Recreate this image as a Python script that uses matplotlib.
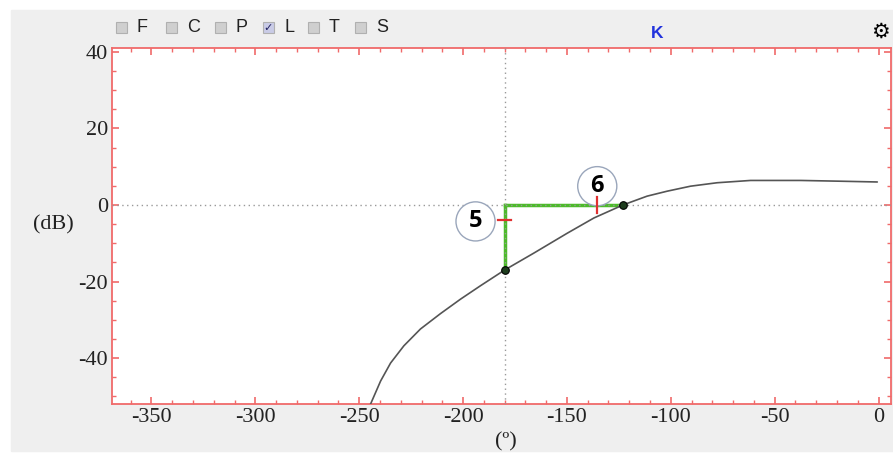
import matplotlib.pyplot as plt
from matplotlib.patches import Rectangle

plt.rcParams['axes.unicode_minus'] = False

# Nichols curve of L(jw)
curve_phase = [-244.6, -239.7, -234.9, -228.5, -220.5, -210.9, -201.2, -191.6,
               -180.0, -166.0, -149.9, -137.0, -123.0, -111.4, -101.7, -90.5,
               -77.7, -61.6, -37.5, -18.3, -0.6]
curve_mag = [-52.1, -46.0, -41.3, -36.8, -32.4, -28.4, -24.6, -21.1,
             -17.0, -12.6, -7.4, -3.4, 0.0, 2.3, 3.6, 4.9,
             5.8, 6.4, 6.4, 6.2, 6.0]

# marked points and margin construction
pts_phase = [-180, -123]
pts_mag = [-17, 0]
ref_phase = -180
ref_mag = 0
tick5 = (-180, -4.0)
tick6 = (-135.5, 0)
label5 = (-194, -4.3)
label6 = (-135.4, 4.9)

xticks = [-350, -300, -250, -200, -150, -100, -50, 0]
yticks = [40, 20, 0, -20, -40]
boxes = ['F', 'C', 'P', 'L', 'T', 'S']
checked = 'L'

W, H = 893, 453
fig = plt.figure(figsize=(W / 100, H / 100), dpi=100, facecolor='white')
fig.patches.append(Rectangle((11 / W, 2 / H), (W - 11) / W, (H - 12) / H,
                             transform=fig.transFigure, color='#efefef', zorder=-10))

ax = fig.add_axes([112 / W, 1 - 404 / H, (891 - 112) / W, (404 - 48) / H])
ax.set_facecolor('white')
ax.set_xlim(-369, 6)
ax.set_ylim(-52, 41)

red = '#f06a6a'
for s in ax.spines.values():
    s.set_color(red)
    s.set_linewidth(1.3)
ax.set_xticks(xticks)
ax.set_yticks(yticks)
ax.set_xticks(range(-360, 1, 10), minor=True)
ax.set_yticks(range(-50, 41, 5), minor=True)
ax.tick_params(which='both', direction='in', color=red, top=True, right=True)
ax.tick_params(which='major', length=5, width=1.2)
ax.tick_params(which='minor', length=3, width=1)
ax.tick_params(labelsize=16, labelcolor='#222222', pad=3)
for lab in ax.get_xticklabels() + ax.get_yticklabels():
    lab.set_family('Liberation Serif')

# green margin lines under the dotted reference lines
ax.plot([ref_phase, ref_phase], [pts_mag[0], ref_mag], color='#4cbb2a', lw=2.5, zorder=2)
ax.plot([ref_phase, pts_phase[1]], [ref_mag, ref_mag], color='#4cbb2a', lw=2.5, zorder=2)
ax.axvline(ref_phase, color='#999999', ls=(0, (1, 2.5)), lw=1, zorder=3)
ax.axhline(ref_mag, color='#999999', ls=(0, (1, 2.5)), lw=1, zorder=3)

ax.plot(curve_phase, curve_mag, color='#555555', lw=1.2, zorder=4,
        solid_joinstyle='round', solid_capstyle='round')
ax.scatter(pts_phase, pts_mag, s=30, color='#1e3d1e', edgecolor='black', lw=0.8, zorder=5)

for (lx, ly), txt in [(label5, '5'), (label6, '6')]:
    ax.annotate(txt, (lx, ly), ha='center', va='center', fontsize=17, fontweight='bold',
                family='Open Sans', color='black', zorder=6,
                bbox=dict(boxstyle='circle,pad=0.32', fc='white', ec='#9aa6bb', lw=1))

# red markers drawn over the circles
ax.plot([tick5[0] - 3.2, tick5[0] + 3.2], [tick5[1], tick5[1]], color='#e03030', lw=1.6, zorder=7)
ax.plot([tick6[0], tick6[0]], [tick6[1] - 2, tick6[1] + 2], color='#e03030', lw=1.6, zorder=7)

fig.text(53 / W, 1 - 225 / H, '(dB)', ha='center', va='center', fontsize=16,
         family='Liberation Serif', color='#222222')
fig.text(506 / W, 1 - 442 / H, '(º)', ha='center', va='center', fontsize=16,
         family='Liberation Serif', color='#222222')

# checkbox bar
box_x = [116, 166, 215, 263, 308, 355]
for bx, name in zip(box_x, boxes):
    fc = '#c9cbe6' if name == checked else '#cfcfcf'
    fig.patches.append(Rectangle((bx / W, 1 - 33 / H), 11 / W, 11 / H, transform=fig.transFigure,
                                 fc=fc, ec='#b0b0b0', lw=0.8, zorder=2))
    if name == checked:
        fig.text((bx + 5.5) / W, 1 - 28 / H, '✓', ha='center', va='center', fontsize=8,
                 color='#202060', family='DejaVu Sans')
    fig.text((bx + 21) / W, 1 - 27.5 / H, name, ha='left', va='center', fontsize=13,
             family='Liberation Sans', color='#222222')

fig.text(657 / W, 1 - 33 / H, 'K', ha='center', va='center', fontsize=12.5, fontweight='bold',
         color='#2233dd', family='Liberation Sans')
fig.text(880 / W, 1 - 32 / H, '⚙', ha='center', va='center', fontsize=15, color='black',
         family='DejaVu Sans')

fig.savefig('out.png', dpi=100, facecolor=fig.get_facecolor())
